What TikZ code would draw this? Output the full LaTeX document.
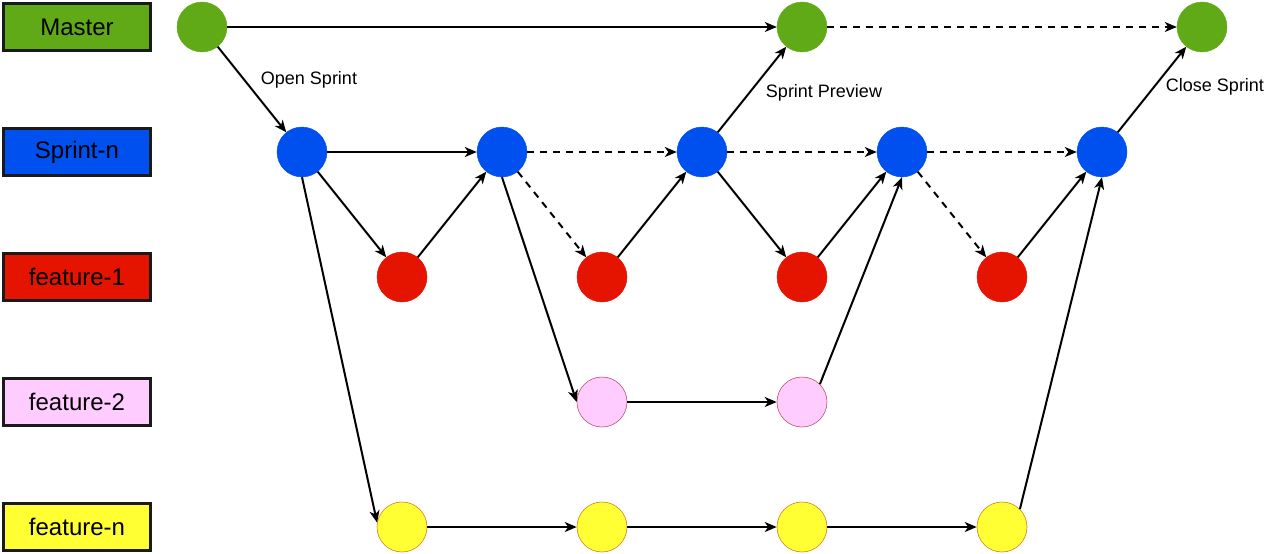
\documentclass[tikz,border=0pt]{standalone}
\usepackage{fontspec}
\setmainfont{Liberation Sans}
\usetikzlibrary{arrows.meta}
\definecolor{cgreen}{HTML}{60A917}
\definecolor{cblue}{HTML}{0050EF}
\definecolor{cred}{HTML}{E51400}
\definecolor{cpink}{HTML}{FFCCFF}
\definecolor{cpinkline}{HTML}{C0506A}
\definecolor{cyellow}{HTML}{FFFF33}
\definecolor{cyellowline}{HTML}{D08020}
\definecolor{boxline}{HTML}{1A1A1A}
\begin{document}
\begin{tikzpicture}[x=1pt,y=-1pt,
  lanebox/.style={draw=boxline,line width=3pt,minimum width=147pt,minimum height=47pt,inner sep=0pt,font=\fontsize{24}{28}\selectfont},
  commit/.style={circle,minimum size=50pt,inner sep=0pt},
  gc/.style={commit,fill=cgreen,draw=cgreen},
  bc/.style={commit,fill=cblue,draw=cblue},
  rc/.style={commit,fill=cred,draw=cred},
  pc/.style={commit,fill=cpink,draw=cpinkline,line width=0.6pt},
  yc/.style={commit,fill=cyellow,draw=cyellowline,line width=0.6pt},
  edge/.style={line width=2pt,-{Stealth[length=12pt,width=10pt,inset=3.5pt]}},
  dedge/.style={edge,dash pattern=on 7pt off 6pt},
  lbl/.style={font=\fontsize{18}{22}\selectfont,inner sep=0pt}
]
\useasboundingbox (0,0) rectangle (1280,554);
% lane boxes
\node[lanebox,fill=cgreen] (lm) at (77,27) {Master};
\node[lanebox,fill=cblue] (ls) at (77,152) {Sprint-n};
\node[lanebox,fill=cred] (l1) at (77,277) {feature-1};
\node[lanebox,fill=cpink] (l2) at (77,402) {feature-2};
\node[lanebox,fill=cyellow] (ln) at (77,527) {feature-n};
% commits
\node[gc] (m1) at (202,27) {};
\node[gc] (m2) at (802,27) {};
\node[gc] (m3) at (1202,27) {};
\node[bc] (s1) at (302,152) {};
\node[bc] (s2) at (502,152) {};
\node[bc] (s3) at (702,152) {};
\node[bc] (s4) at (902,152) {};
\node[bc] (s5) at (1102,152) {};
\node[rc] (a1) at (402,277) {};
\node[rc] (a2) at (602,277) {};
\node[rc] (a3) at (802,277) {};
\node[rc] (a4) at (1002,277) {};
\node[pc] (b1) at (602,402) {};
\node[pc] (b2) at (802,402) {};
\node[yc] (n1) at (402,527) {};
\node[yc] (n2) at (602,527) {};
\node[yc] (n3) at (802,527) {};
\node[yc] (n4) at (1002,527) {};
% master
\draw[edge] (m1) -- (m2);
\draw[dedge] (m2) -- (m3);
\draw[edge] (m1) -- (s1);
\draw[edge] (s3) -- (m2);
\draw[edge] (s5) -- (m3);
% sprint
\draw[edge] (s1) -- (s2);
\draw[dedge] (s2) -- (s3);
\draw[dedge] (s3) -- (s4);
\draw[dedge] (s4) -- (s5);
% feature-1
\draw[edge] (s1) -- (a1);
\draw[edge] (a1) -- (s2);
\draw[dedge] (s2) -- (a2);
\draw[edge] (a2) -- (s3);
\draw[edge] (s3) -- (a3);
\draw[edge] (a3) -- (s4);
\draw[dedge] (s4) -- (a4);
\draw[edge] (a4) -- (s5);
% feature-2
\draw[edge] (s2.south) -- (b1.west);
\draw[edge] (b1) -- (b2);
\draw[edge] (b2.45) -- (s4.south);
% feature-n
\draw[edge] (s1.south) -- (n1.170);
\draw[edge] (n1) -- (n2);
\draw[edge] (n2) -- (n3);
\draw[edge] (n3) -- (n4);
\draw[edge] (n4.45) -- (s5.south);
% labels
\node[lbl] (t1) at (309,80) {Open Sprint};
\node[lbl] (t2) at (824,93) {Sprint Preview};
\node[lbl] (t3) at (1215,87) {Close Sprint};
\end{tikzpicture}
\end{document}
